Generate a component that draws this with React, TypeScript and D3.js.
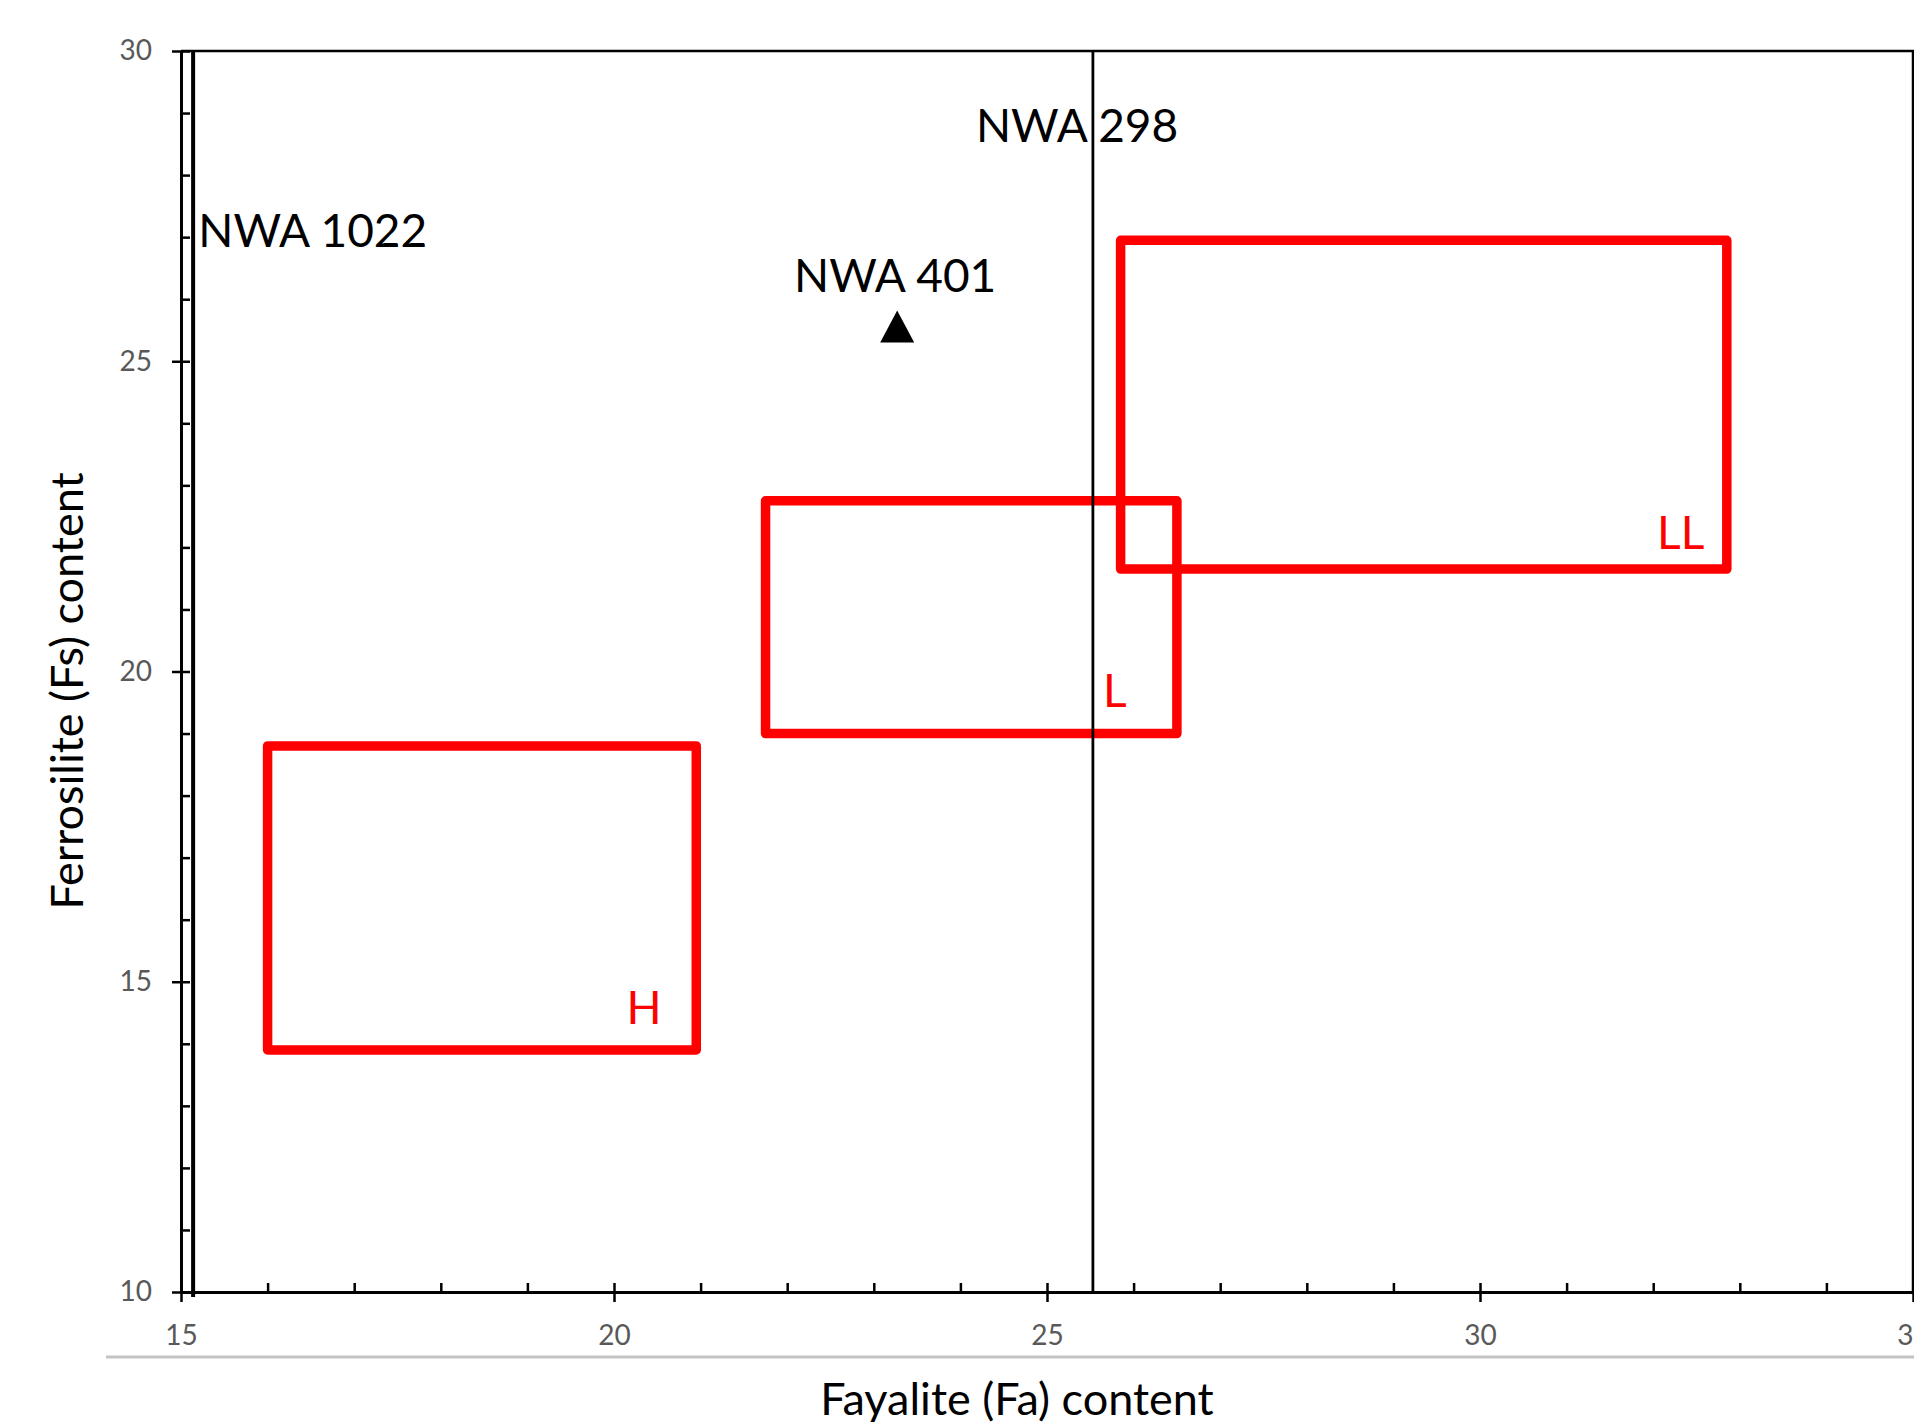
import React, { useEffect, useRef } from "react";
import * as d3 from "d3";

// chondrite group fields (Fa vs Fs, mol%)
const groups = ["H", "L", "LL"];
const faMin = [16.0, 21.75, 25.85];
const faMax = [20.95, 26.5, 32.85];
const fsMin = [13.9, 19.0, 21.65];
const fsMax = [18.8, 22.75, 26.95];
// where each group letter sits (right end of text, baseline)
const groupLabelFa = [20.55, 25.92, 32.59];
const groupLabelFs = [14.32, 19.42, 21.97];

// meteorites known only by Fa -> vertical lines
const lineNames = ["NWA 1022", "NWA 298"];
const lineFa = [15.14, 25.53];
const lineWidths = [4, 2.8];
const lineLabelFa = [15.2, 24.18];
const lineLabelFs = [26.84, 28.53];

// meteorite with both values -> point
const pointNames = ["NWA 401"];
const pointFa = [23.27];
const pointFs = [25.56];

const xTicks = [15, 20, 25, 30, 35];
const yTicks = [10, 15, 20, 25, 30];

const FONT = "Lato, 'Open Sans', sans-serif";

const Chart: React.FC = () => {
  const svgRef = useRef<SVGSVGElement | null>(null);
  const width = 1914;
  const height = 1422;

  useEffect(() => {
    const svg = d3.select(svgRef.current);
    svg.selectAll("*").remove();

    const x = d3.scaleLinear().domain([15, 35]).range([181, 1913]);
    const y = d3.scaleLinear().domain([10, 30]).range([1292, 51]);

    // rectangles first, black lines go over them
    groups.forEach((g, i) => {
      svg
        .append("rect")
        .attr("x", x(faMin[i]))
        .attr("y", y(fsMax[i]))
        .attr("width", x(faMax[i]) - x(faMin[i]))
        .attr("height", y(fsMin[i]) - y(fsMax[i]))
        .attr("fill", "none")
        .attr("stroke", "#ff0000")
        .attr("stroke-width", 9.5)
        .attr("stroke-linejoin", "round");

      svg
        .append("text")
        .text(g)
        .attr("x", x(groupLabelFa[i]))
        .attr("y", y(groupLabelFs[i]))
        .attr("text-anchor", "end")
        .attr("font-family", FONT)
        .attr("font-size", 46)
        .attr("fill", "#ff0000");
    });

    // frame top and right
    svg
      .append("path")
      .attr("d", `M${x(15)},${y(30)}H${x(35)}V${y(10)}`)
      .attr("fill", "none")
      .attr("stroke", "#000")
      .attr("stroke-width", 2.5);

    // x axis
    const xAxis = svg
      .append("g")
      .attr("transform", `translate(0,${y(10)})`)
      .call(
        d3
          .axisBottom(x)
          .tickValues(xTicks)
          .tickSize(10)
          .tickSizeOuter(0)
          .tickFormat(d3.format("d"))
      );
    xAxis.select(".domain").attr("stroke-width", 3).attr("stroke", "#000");
    xAxis.selectAll(".tick line").attr("stroke-width", 2.5).attr("stroke", "#000");
    xAxis
      .selectAll(".tick text")
      .attr("y", 53)
      .attr("dy", null)
      .attr("font-family", FONT)
      .attr("font-size", 28)
      .attr("fill", "#595959");

    svg
      .append("g")
      .attr("transform", `translate(0,${y(10)})`)
      .call(
        d3
          .axisBottom(x)
          .tickValues(d3.range(15, 36, 1))
          .tickSize(-9)
          .tickFormat(() => "")
      )
      .call((g) => g.select(".domain").remove())
      .selectAll(".tick line")
      .attr("stroke-width", 2.5)
      .attr("stroke", "#000");

    // y axis
    const yAxis = svg
      .append("g")
      .attr("transform", `translate(${x(15)},0)`)
      .call(
        d3
          .axisLeft(y)
          .tickValues(yTicks)
          .tickSize(9)
          .tickSizeOuter(0)
          .tickPadding(20)
          .tickFormat(d3.format("d"))
      );
    yAxis.select(".domain").attr("stroke-width", 3).attr("stroke", "#000");
    yAxis.selectAll(".tick line").attr("stroke-width", 2.5).attr("stroke", "#000");
    yAxis
      .selectAll(".tick text")
      .attr("font-family", FONT)
      .attr("font-size", 28)
      .attr("fill", "#595959");

    svg
      .append("g")
      .attr("transform", `translate(${x(15)},0)`)
      .call(
        d3
          .axisLeft(y)
          .tickValues(d3.range(10, 31, 1))
          .tickSize(-9)
          .tickFormat(() => "")
      )
      .call((g) => g.select(".domain").remove())
      .selectAll(".tick line")
      .attr("stroke-width", 2.5)
      .attr("stroke", "#000");

    // vertical meteorite lines + labels
    lineNames.forEach((name, i) => {
      svg
        .append("line")
        .attr("x1", x(lineFa[i]))
        .attr("x2", x(lineFa[i]))
        .attr("y1", y(30))
        .attr("y2", y(10) + (i === 0 ? 5 : 0))
        .attr("stroke", "#000")
        .attr("stroke-width", lineWidths[i]);

      svg
        .append("text")
        .text(name)
        .attr("x", x(lineLabelFa[i]))
        .attr("y", y(lineLabelFs[i]))
        .attr("font-family", FONT)
        .attr("font-size", 46)
        .attr("fill", "#000");
    });

    // point marker
    const tri = "M0,-16L17,16L-17,16Z";
    pointNames.forEach((name, i) => {
      svg
        .append("path")
        .attr("d", tri)
        .attr("transform", `translate(${x(pointFa[i])},${y(pointFs[i])})`)
        .attr("fill", "#000");
      svg
        .append("text")
        .text(name)
        .attr("x", x(pointFa[i]) - 2)
        .attr("y", y(pointFs[i]) - 35)
        .attr("text-anchor", "middle")
        .attr("font-family", FONT)
        .attr("font-size", 46)
        .attr("fill", "#000");
    });

    // axis titles
    svg
      .append("text")
      .text("Fayalite (Fa) content")
      .attr("x", 1017)
      .attr("y", 1415)
      .attr("text-anchor", "middle")
      .attr("font-family", FONT)
      .attr("font-size", 45)
      .attr("fill", "#000");

    svg
      .append("text")
      .text("Ferrosilite (Fs) content")
      .attr("transform", "translate(83,691) rotate(-90)")
      .attr("text-anchor", "middle")
      .attr("font-family", FONT)
      .attr("font-size", 45)
      .attr("fill", "#000");

    // light grey rule under the axis labels
    svg
      .append("line")
      .attr("x1", 106)
      .attr("x2", width)
      .attr("y1", 1357)
      .attr("y2", 1357)
      .attr("stroke", "#c4c4c4")
      .attr("stroke-width", 3);
  }, []);

  return (
    <svg
      ref={svgRef}
      width={width}
      height={height}
      style={{ position: "absolute", left: 0, top: 0, background: "#fff" }}
    ></svg>
  );
};

export default function App() {
  return <Chart />;
}
